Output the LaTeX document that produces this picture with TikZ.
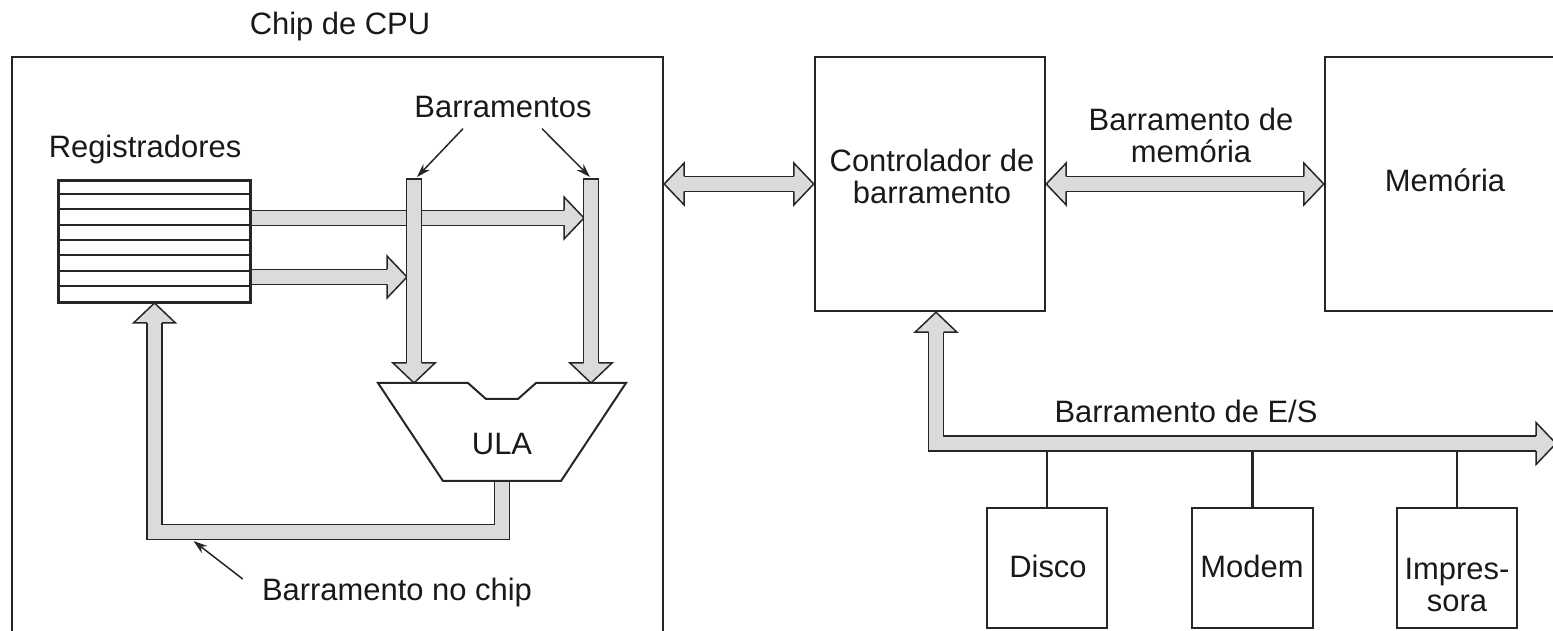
\documentclass[tikz,border=0pt]{standalone}
\usepackage{fontspec}
\setmainfont{Liberation Sans}
\usetikzlibrary{calc,arrows.meta}
\definecolor{busgray}{gray}{0.86}
\newcommand{\buscolor}{busgray}
\newcommand{\busedge}{0.03cm}
\newcommand{\busgap}{0.27cm}
% heads of the wide buses, tip at #1
\newcommand{\headR}[1]{\filldraw[head] ($(#1)+(-20,-7.5)$) -- ++(0,-13.5) -- (#1) -- ++(-20,21) -- ++(0,-13.5);}
\newcommand{\headL}[1]{\filldraw[head] ($(#1)+(20,-7.5)$) -- ++(0,-13.5) -- (#1) -- ++(20,21) -- ++(0,-13.5);}
\newcommand{\headD}[1]{\filldraw[head] ($(#1)+(-7.5,-20)$) -- ++(-13.5,0) -- (#1) -- ++(21,-20) -- ++(-13.5,0);}
\newcommand{\headU}[1]{\filldraw[head] ($(#1)+(-7.5,20)$) -- ++(-13.5,0) -- (#1) -- ++(21,20) -- ++(-13.5,0);}
\tikzset{
  box/.style={draw=black!85, line width=0.05cm, inner sep=0},
  bus/.style={draw=black!85, line width=\busedge, double=\buscolor, double distance=\busgap, line join=miter},
  head/.style={fill=\buscolor, draw=black!85, line width=\busedge, line join=miter},
  pointer/.style={draw=black!85, line width=0.03cm, -{Stealth[length=0.28cm, width=0.18cm]}},
  lbl/.style={font=\fontsize{17.6}{18.6}\selectfont, text=black!90, inner sep=0, align=center},
}

\begin{document}
\begin{tikzpicture}[x=0.02cm, y=-0.02cm]
\useasboundingbox (0,0) rectangle (1553,631);
\clip (0,0) rectangle (1553,631);
% boxes
\node[box, minimum width=13.02cm, minimum height=12.06cm] (cpu) at (337.5,358.5) {};
\node[lbl, anchor=base] (cpu label) at (340,35) {Chip de CPU};
\node[box, minimum width=4.6cm, minimum height=5.08cm] (ctrl) at (930,184) {};
\node[lbl, anchor=base] (ctrl label) at (932,204) {Controlador de\\barramento};
\node[box, minimum width=5.5cm, minimum height=5.08cm] (mem) at (1462.5,184) {};
\node[lbl, anchor=base] (mem label) at (1445,192) {Memória};
\node[box, minimum width=2.4cm, minimum height=2.4cm] (disco) at (1047,568) {};
\node[box, minimum width=2.42cm, minimum height=2.4cm] (modem) at (1252.5,568) {};
\node[box, minimum width=2.4cm, minimum height=2.4cm] (impr) at (1457,568) {};
\node[lbl, anchor=base] at (1048,578) {Disco};
\node[lbl, anchor=base] at (1252,578) {Modem};
\node[lbl, anchor=base] at (1457,612) {Impres-\\sora};
% bus points
\coordinate (lb top) at (414,179);
\coordinate (lb tip) at (414,383);
\coordinate (rb top) at (591,179);
\coordinate (rb tip) at (591,383);
\coordinate (up tip) at (584,218);
\coordinate (lo tip) at (407,277);
\coordinate (alu out) at (502,481);
\coordinate (cpu port) at (cpu.east |- ctrl);
\coordinate (io port) at ($(ctrl.south)+(6,0)$);
\coordinate (io end) at (1556,443.5);
% stubs
\draw[line width=0.05cm, black!85] (disco.north) -- (disco.north |- io end);
\draw[line width=0.05cm, black!85] (modem.north) -- (modem.north |- io end);
\draw[line width=0.05cm, black!85] (impr.north) -- (impr.north |- io end);
% registers to buses
\draw[bus] (251,218) -- ($(up tip)+(-18,0)$);
\headR{up tip}
\draw[bus] (251,277) -- ($(lo tip)+(-18,0)$);
\headR{lo tip}
\draw[bus] (lb top) -- ($(lb tip)+(0,-18)$);
\draw[line width=\busedge, black!85] ($(lb top)+(-8,0)$) -- ($(lb top)+(8,0)$);
\headD{lb tip}
\draw[bus] (rb top) -- ($(rb tip)+(0,-18)$);
\draw[line width=\busedge, black!85] ($(rb top)+(-8,0)$) -- ($(rb top)+(8,0)$);
\headD{rb tip}
% on-chip bus back to the registers
\draw[bus] (alu out) -- ++(0,51) coordinate (fb turn) -| ($(154.5,303)+(0,18)$);
\headU{154.5,303}
% registers
\node[box, line width=0.06cm, minimum width=3.86cm, minimum height=2.46cm] (reg) at (154.5,241.5) {};
\foreach \i in {1,...,7}
  \draw[line width=0.04cm, black!85] ($(reg.north west)+(0,\i*15.375)$) -- ++(193,0);
\node[lbl, anchor=base] (reg label) at (145,158) {Registradores};
% ALU
\draw[line width=0.04cm, black!85, line join=miter] (378,383) -- (468,383) -- (486,399) -- (518,399) -- (536,383) -- (626,383) -- (561,481) -- (443,481) -- cycle;
\node[lbl, anchor=base] (alu) at (502,455) {ULA};
% chip to controller
\draw[bus] ($(cpu port)+(18,0)$) -- ($(ctrl.west)+(-18,0)$);
\headL{cpu port}
\headR{ctrl.west}
% memory bus
\draw[bus] ($(ctrl.east)+(18,0)$) -- ($(mem.west)+(-18,0)$);
\headL{ctrl.east}
\headR{mem.west}
\node[lbl, anchor=base] (mem bus) at (1191,163) {Barramento de\\memória};
% I/O bus
\draw[bus] ($(io port)+(0,18)$) |- ($(io end)+(-18,0)$);
\headU{io port}
\headR{io end}
\node[lbl, anchor=base] (io bus) at (1186,423) {Barramento de E/S};
% pointers
\node[lbl, anchor=base] (bus label) at (503,118) {Barramentos};
\draw[pointer] ($(bus label.south)+(-40,10)$) -- ($(lb top)+(3,-2)$);
\draw[pointer] ($(bus label.south)+(39,10)$) -- ($(rb top)+(-1,-2)$);
\node[lbl, anchor=base] (chip label) at (397,601) {Barramento no chip};
\draw[pointer] ($(chip label.west)+(-19,-14)$) -- ($(fb turn -| 154.5,0)+(39,9)$);
\end{tikzpicture}
\end{document}
